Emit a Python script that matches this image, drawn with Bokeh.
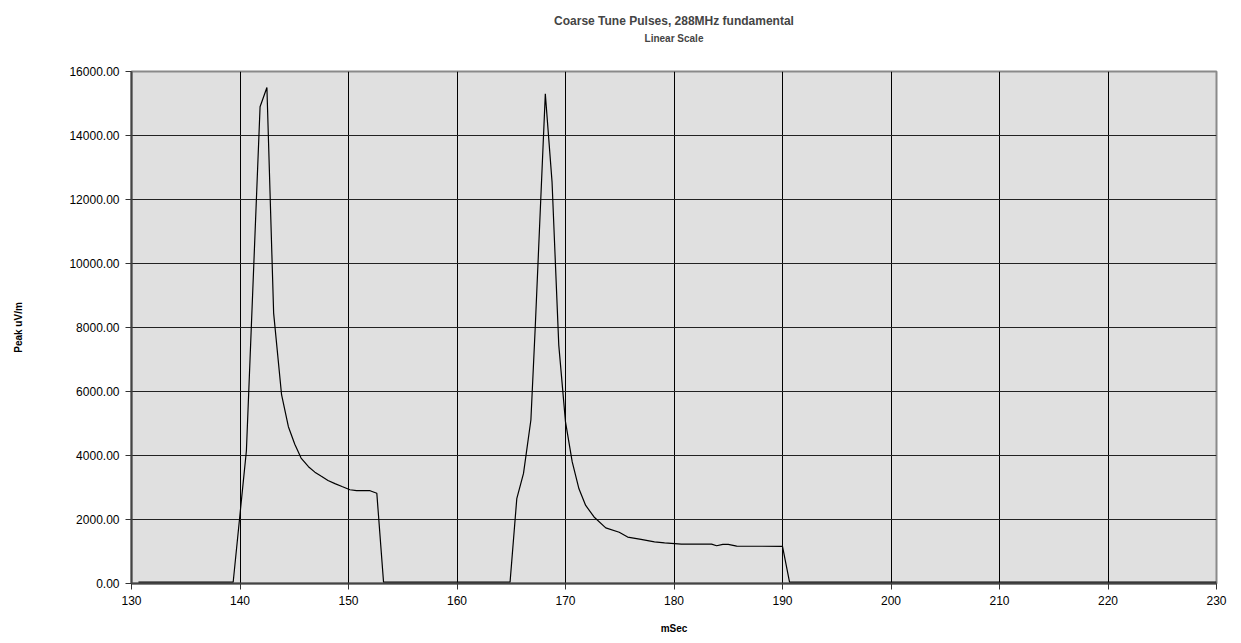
from bokeh.plotting import figure
from bokeh.models import Title, PrintfTickFormatter, FixedTicker, Range1d
from bokeh.embed import file_html
from bokeh.resources import INLINE

# data (mSec, Peak uV/m)
msec = [130.64, 139.37, 140.59, 141.85, 142.48, 143.10, 143.83, 144.46, 145.05, 145.63,
        146.31, 146.90, 147.50, 148.11, 148.75, 149.40, 150.13, 150.75, 151.99, 152.61,
        153.23, 164.89, 165.51, 166.13, 166.81, 167.21, 168.14, 168.76, 169.38, 170.00,
        170.62, 171.24, 171.86, 172.63, 173.71, 174.95, 175.73, 176.96, 178.20, 179.13,
        180.68, 183.46, 183.93, 184.50, 185.00, 185.78, 190.00, 190.65, 230.00]
peak = [40, 40, 4150, 14900, 15500, 8450, 5900, 4900, 4350, 3920,
        3650, 3480, 3350, 3220, 3120, 3030, 2930, 2900, 2900, 2820,
        40, 40, 2650, 3440, 5110, 8000, 15300, 12550, 7450, 5050,
        3800, 2960, 2440, 2080, 1740, 1600, 1450, 1380, 1300, 1270,
        1230, 1230, 1180, 1220, 1220, 1170, 1160, 40, 40]

x_ticks = [130, 140, 150, 160, 170, 180, 190, 200, 210, 220, 230]
y_ticks = [0, 2000, 4000, 6000, 8000, 10000, 12000, 14000, 16000]

FONT = "Liberation Sans"

p = figure(width=1241, height=643, output_backend="svg", toolbar_location=None,
           x_range=Range1d(130, 230), y_range=Range1d(0, 16000),
           min_border_left=131, min_border_right=25, min_border_top=71, min_border_bottom=60)
p.background_fill_color = "#e0e0e0"
p.border_fill_color = "white"
p.outline_line_color = "#8a8a8a"
p.outline_line_width = 2

p.add_layout(Title(text="Linear Scale", align="center", text_font=FONT,
                   text_font_size="10px", text_font_style="bold", standoff=55), "above")
p.add_layout(Title(text="Coarse Tune Pulses, 288MHz fundamental", align="center",
                   text_font=FONT, text_font_size="12px", text_font_style="bold",
                   standoff=-48), "above")

p.line(msec, peak, line_color="black", line_width=1.2)

p.xaxis.ticker = FixedTicker(ticks=x_ticks)
p.yaxis.ticker = FixedTicker(ticks=y_ticks)
p.yaxis.formatter = PrintfTickFormatter(format="%.2f")
p.xaxis.axis_label = "mSec"
p.yaxis.axis_label = "Peak uV/m"
for ax in (p.xaxis, p.yaxis):
    ax.major_label_text_font = FONT
    ax.major_label_text_font_size = "12px"
    ax.major_label_text_color = "black"
    ax.axis_label_text_font = FONT
    ax.axis_label_text_font_size = "10px"
    ax.axis_label_text_font_style = "bold"
    ax.axis_label_text_color = "black"
    ax.minor_tick_line_color = None
    ax.major_tick_in = 0
    ax.major_tick_out = 6
    ax.major_tick_line_color = "#333"
    ax.axis_line_color = "#444"
    ax.axis_line_width = 2
p.xaxis.major_label_standoff = 6
p.xaxis.axis_label_standoff = 15
p.yaxis.major_label_standoff = 6
p.yaxis.axis_label_standoff = 42

p.xgrid.ticker = FixedTicker(ticks=x_ticks)
p.ygrid.ticker = FixedTicker(ticks=y_ticks)
p.xgrid.grid_line_color = "black"
p.ygrid.grid_line_color = "#222"
p.xgrid.grid_line_width = 1
p.ygrid.grid_line_width = 1.2

open("out.html", "w").write(file_html(p, INLINE))
